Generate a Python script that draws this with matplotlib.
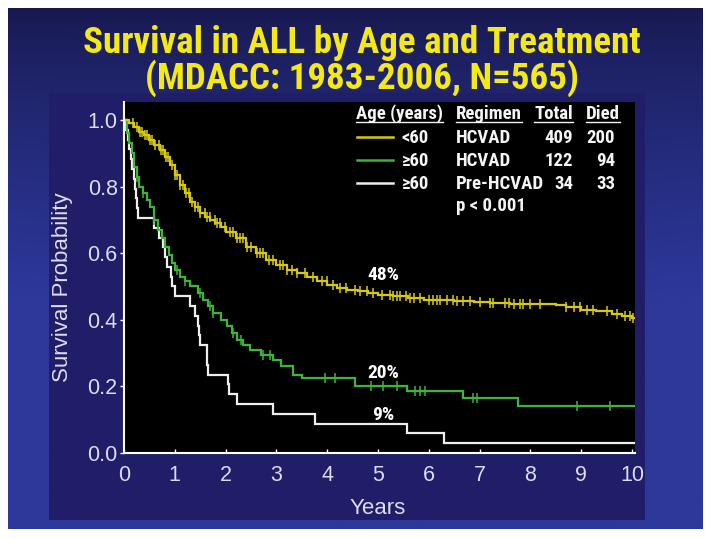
import numpy as np
import matplotlib
matplotlib.use('Agg')
import matplotlib.pyplot as plt
from matplotlib import font_manager as fm
from matplotlib.patches import Rectangle
from matplotlib.lines import Line2D

W, H, DPI = 712, 539, 100

# ---------------- data ----------------
title_lines = ["Survival in ALL by Age and Treatment", "(MDACC: 1983-2006, N=565)"]
x_ticks = [0, 1, 2, 3, 4, 5, 6, 7, 8, 9, 10]
y_ticks = [0.0, 0.2, 0.4, 0.6, 0.8, 1.0]
x_label = "Years"
y_label = "Survival Probability"

legend_headers = ["Age (years)", "Regimen", "Total", "Died"]
group_age = ["<60", "\u226560", "\u226560"]
group_regimen = ["HCVAD", "HCVAD", "Pre-HCVAD"]
group_total = [409, 122, 34]
group_died = [200, 94, 33]
p_text = "p < 0.001"
pct_labels = ["48%", "20%", "9%"]

yellow_t = [0, 0.1, 0.2, 0.3, 0.4, 0.5, 0.6, 0.7, 0.8, 0.9, 1.0, 1.1, 1.2, 1.3, 1.4, 1.5, 1.6, 1.7, 1.8, 1.9, 2.0,
            2.2, 2.4, 2.6, 2.8, 3.0, 3.2, 3.4, 3.6, 3.8, 4.0, 4.2, 4.4, 4.6, 4.8,
            5.0, 5.3, 5.6, 5.9, 6.2, 6.5, 6.9, 7.2, 7.6, 8.0, 8.5, 8.7, 9.0, 9.3, 9.6, 9.8, 10.0, 10.05]
yellow_s = [1.0, 0.99, 0.98, 0.965, 0.955, 0.94, 0.925, 0.91, 0.89, 0.865, 0.835, 0.805, 0.78, 0.755, 0.74, 0.72,
            0.71, 0.70, 0.69, 0.68, 0.665,
            0.645, 0.62, 0.60, 0.58, 0.565, 0.55, 0.54, 0.53, 0.515, 0.505, 0.495, 0.49, 0.485, 0.48,
            0.475, 0.47, 0.465, 0.46, 0.458, 0.455, 0.453, 0.45, 0.448, 0.447, 0.445, 0.437, 0.43, 0.425, 0.418,
            0.41, 0.405, 0.405]
yellow_censor = [0.18, 0.25, 0.31, 0.36, 0.41, 0.46, 0.51, 0.56, 0.61, 0.68, 0.72, 0.77, 0.82, 0.87, 0.94, 1.0,
                 1.05, 1.1, 1.17, 1.23, 1.28, 1.33, 1.4, 1.45, 1.5, 1.59, 1.64, 1.69, 1.79, 1.84, 1.89, 1.99,
                 2.09, 2.15, 2.22, 2.28, 2.35, 2.42, 2.5, 2.61, 2.68, 2.74, 2.85, 2.94, 3.07, 3.14, 3.2, 3.3,
                 3.4, 3.56, 3.73, 3.89, 3.99, 4.12, 4.25, 4.38, 4.55, 4.65, 4.78, 4.91, 5.07, 5.24, 5.30, 5.37,
                 5.43, 5.56, 5.63, 5.70, 5.83, 6.0, 6.09, 6.16, 6.22, 6.35, 6.48, 6.55, 6.68, 6.81, 7.01, 7.2,
                 7.27, 7.5, 7.57, 7.67, 7.8, 7.86, 7.99, 8.19, 8.71, 8.85, 8.98, 9.11, 9.24, 9.5, 9.7, 9.86,
                 9.96, 10.03]

green_t = [0, 0.05, 0.1, 0.15, 0.2, 0.25, 0.3, 0.37, 0.45, 0.51, 0.6, 0.67, 0.75, 0.81, 0.88, 0.94, 1.0, 1.1,
           1.2, 1.3, 1.45, 1.56, 1.65, 1.75, 1.9, 2.03, 2.12, 2.22, 2.35, 2.48, 2.7, 2.93, 3.1, 3.33, 3.5, 4.55,
           5.57, 6.67, 7.76, 10.05]
green_s = [1.0, 0.96, 0.93, 0.90, 0.86, 0.83, 0.80, 0.78, 0.76, 0.74, 0.70, 0.67, 0.645, 0.62, 0.595, 0.57,
           0.55, 0.53, 0.515, 0.50, 0.48, 0.46, 0.44, 0.42, 0.40, 0.38, 0.36, 0.34, 0.325, 0.31, 0.295, 0.28,
           0.26, 0.235, 0.225, 0.20, 0.185, 0.165, 0.14, 0.14]
green_censor = [0.25, 0.38, 0.6, 1.04, 1.2, 1.5, 1.69, 1.76, 2.15, 2.3, 2.74, 2.87, 3.96, 4.15, 4.87, 5.1,
                5.37, 5.73, 5.83, 5.92, 6.87, 6.94, 8.91, 9.57]

white_t = [0, 0.04, 0.07, 0.1, 0.13, 0.16, 0.19, 0.22, 0.24, 0.26, 0.28, 0.6, 0.68, 0.76, 0.8, 0.85, 0.92,
           0.95, 1.0, 1.3, 1.39, 1.45, 1.48, 1.5, 1.63, 1.64, 1.66, 2.05, 2.06, 2.22, 2.93, 3.76, 5.57, 6.3, 10.05]
white_s = [1.0, 0.971, 0.941, 0.912, 0.882, 0.853, 0.824, 0.794, 0.765, 0.735, 0.706, 0.676, 0.647, 0.618,
           0.588, 0.559, 0.529, 0.50, 0.471, 0.441, 0.412, 0.382, 0.353, 0.324, 0.294, 0.265, 0.235, 0.206,
           0.176, 0.147, 0.118, 0.088, 0.059, 0.029, 0.029]
white_censor = []

# ---------------- fonts ----------------
names = {f.name for f in fm.fontManager.ttflist}
REG = 'Liberation Sans' if 'Liberation Sans' in names else 'DejaVu Sans'
NARROW = REG
for cand in ['Liberation Sans Narrow', 'Roboto Condensed', 'Open Sans Condensed', 'Arial Narrow']:
    if cand in names:
        NARROW = cand
        break
HAS_NARROW = NARROW != REG
plt.rcParams['font.family'] = [REG, 'DejaVu Sans']

# ---------------- colours ----------------
C_YEL = '#d6c814'
C_GRN = '#3db536'
C_WHT = '#eeeeee'
C_TITLE = '#f4e815'
C_TXT = '#dcdcec'

fig = plt.figure(figsize=(W / DPI, H / DPI), dpi=DPI, facecolor='white')

def fx(px):
    return px / W

def fy(py):
    return 1 - py / H

# background slide with gradient
bg = fig.add_axes([0, 0, 1, 1], zorder=-10)
bg.set_xlim(0, W)
bg.set_ylim(H, 0)
bg.axis('off')
yy, xx = np.mgrid[0:1:200j, 0:1:200j]
f = np.clip(yy * 1.5, 0, 1) ** 0.7
f = np.clip(f + 0.25 * np.abs(xx - 0.5) * 2 * yy, 0, 1)
c0 = np.array([0x18, 0x18, 0x4e]) / 255
c1 = np.array([0x2c, 0x38, 0x9a]) / 255
img = c0[None, None, :] * (1 - f[..., None]) + c1[None, None, :] * f[..., None]
bg.imshow(img, extent=(8, 703, 529, 8), aspect='auto', interpolation='bilinear')
bg.add_patch(Rectangle((49, 93), 596, 427, facecolor='#201e68', edgecolor='none'))

# ---------------- plot ----------------
ax = fig.add_axes([fx(124), fy(453), (635 - 124) / W, (453 - 102) / H])
ax.set_facecolor('black')
ax.set_xlim(0, 10.06)
ax.set_ylim(0, 1.054)

def censor_y(t, s, c):
    t = np.asarray(t); s = np.asarray(s)
    idx = np.searchsorted(t, np.asarray(c), side='right') - 1
    return s[idx]

for t, s, cen, col in [(white_t, white_s, white_censor, C_WHT),
                       (green_t, green_s, green_censor, C_GRN),
                       (yellow_t, yellow_s, yellow_censor, C_YEL)]:
    ax.step(t, s, where='post', color=col, lw=1.6, solid_joinstyle='miter')
    if len(cen):
        ax.plot(cen, censor_y(t, s, cen), linestyle='none', marker='|', ms=7.5, mew=1.1, color=col)

for sp in ['top', 'right']:
    ax.spines[sp].set_visible(False)
for sp in ['left', 'bottom']:
    ax.spines[sp].set_color('white')
    ax.spines[sp].set_linewidth(1.5)

ax.set_xticks(x_ticks)
ax.set_xticklabels([str(v) for v in x_ticks])
ax.set_yticks(y_ticks)
ax.set_yticklabels([f"{v:.1f}" for v in y_ticks])
ax.tick_params(axis='x', direction='in', length=3, width=1, color='white', pad=8.5,
               labelsize=15.5, labelcolor=C_TXT)
ax.tick_params(axis='y', direction='out', length=3, width=1, color='white', pad=1.5,
               labelsize=15.5, labelcolor=C_TXT)

# percentage annotations
PFS = 14 if HAS_NARROW else 12
for lab, yv in zip(pct_labels, [0.535, 0.24, 0.114]):
    ax.text(5.1, yv, lab, ha='center', va='center', color='white', fontsize=PFS,
            fontweight='bold', family=NARROW)

# axis labels
fig.text(fx(63), fy(287), y_label, rotation=90, ha='center', va='center', color=C_TXT, fontsize=16)
fig.text(fx(378), fy(509), x_label, ha='center', va='center', color=C_TXT, fontsize=16)

# title (fit width)
fig.canvas.draw()
rend = fig.canvas.get_renderer()
t1 = fig.text(fx(362), fy(53), title_lines[0], ha='center', va='baseline', color=C_TITLE,
              fontsize=27, fontweight='bold', family=NARROW)
w1 = t1.get_window_extent(rend).width
fs = 27 * 557 / w1
t1.set_fontsize(fs)
fig.text(fx(362), fy(89), title_lines[1], ha='center', va='baseline', color=C_TITLE,
         fontsize=fs, fontweight='bold', family=NARROW)

# legend table
LFS = 13.5 if HAS_NARROW else 11
lkw = dict(color='#f4f4f4', fontsize=LFS, fontweight='bold', family=NARROW, va='baseline')
hdr_pos = [(356, 'left'), (456, 'left'), (573, 'right'), (620, 'right')]
for txt, (px, ha) in zip(legend_headers, hdr_pos):
    tt = fig.text(fx(px), fy(119), txt, ha=ha, **lkw)
    bb = tt.get_window_extent(rend)
    fig.add_artist(Line2D([bb.x0 / W, bb.x1 / W], [fy(122), fy(122)], color='#f4f4f4', lw=1.0))

row_base = [143, 166, 189]
for i, col in enumerate([C_YEL, C_GRN, C_WHT]):
    b = row_base[i]
    fig.add_artist(Line2D([fx(357), fx(393)], [fy(b - 6.5), fy(b - 6.5)], color=col, lw=1.8))
    fig.text(fx(402), fy(b), group_age[i], ha='left', **lkw)
    fig.text(fx(456), fy(b), group_regimen[i], ha='left', **lkw)
    fig.text(fx(573), fy(b), str(group_total[i]), ha='right', **lkw)
    fig.text(fx(615), fy(b), str(group_died[i]), ha='right', **lkw)
fig.text(fx(456), fy(211), p_text, ha='left', **lkw)

fig.savefig('out.png', dpi=DPI, facecolor='white')
